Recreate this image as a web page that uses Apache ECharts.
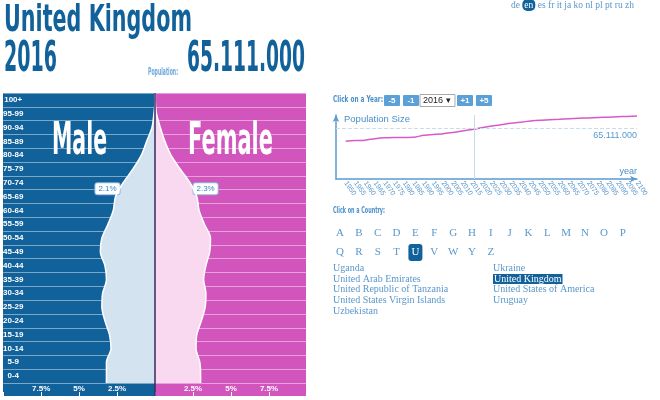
<!DOCTYPE html>
<html><head><meta charset="utf-8">
<script src="https://cdn.jsdelivr.net/npm/echarts@6/dist/echarts.min.js"></script>
<style>html,body{margin:0;padding:0;background:#fff}#c{width:660px;height:400px}</style>
</head><body><div id="c"></div>
<script>
// ---------- data ----------
const countryName = 'United Kingdom';
const selectedYear = 2016;
const totalPopulation = 65111000;
const ageGroups = ['0-4','5-9','10-14','15-19','20-24','25-29','30-34','35-39','40-44','45-49','50-54','55-59','60-64','65-69','70-74','75-79','80-84','85-89','90-94','95-99','100+'];
const maleShare   = [3.2, 3.2, 2.9, 3.0, 3.3, 3.5, 3.45, 3.2, 3.3, 3.6, 3.5, 3.1, 2.75, 2.6, 2.1, 1.45, 0.9, 0.55, 0.2, 0.07, 0.0];
const femaleShare = [3.0, 2.95, 2.7, 2.75, 3.05, 3.3, 3.35, 3.2, 3.35, 3.6, 3.65, 3.25, 2.9, 2.75, 2.3, 1.65, 1.05, 0.65, 0.35, 0.1, 0.02];
const highlightedAge = '70-74';
const shareTicks = [0, 2.5, 5, 7.5, 10];
const years = [1950,1955,1960,1965,1970,1975,1980,1985,1990,1995,2000,2005,2010,2015,2020,2025,2030,2035,2040,2045,2050,2055,2060,2065,2070,2075,2080,2085,2090,2095,2100];
const populationMillions = [48.5,49.2,49.8,51.5,52.7,53.1,53.3,53.4,56.0,57.0,58.1,59.6,61.6,63.5,65.8,67.9,69.6,71.4,72.8,74.2,75.3,76.0,76.6,77.3,77.9,78.3,78.8,79.2,79.8,80.2,80.8];
const languages = ['de','en','es','fr','it','ja','ko','nl','pl','pt','ru','zh'];
const currentLanguage = 'en';
const yearButtons = ['-5','-1','+1','+5'];
const lettersRow1 = ['A','B','C','D','E','F','G','H','I','J','K','L','M','N','O','P'];
const lettersRow2 = ['Q','R','S','T','U','V','W','Y','Z'];
const currentLetter = 'U';
const countriesCol1 = ['Uganda','United Arab Emirates','United Republic of Tanzania','United States Virgin Islands','Uzbekistan'];
const countriesCol2 = ['Ukraine','United Kingdom','United States of America','Uruguay'];

// ---------- helpers ----------
const DARK = '#11619b', MAG = '#d155bc', LB = '#5a97cc';
const fmtDots = n => String(Math.round(n)).replace(/\B(?=(\d{3})+(?!\d))/g, '.');
const mctx = document.createElement('canvas').getContext('2d');
function measure(str, size, fam, weight){ mctx.font = (weight||'normal') + ' ' + size + 'px ' + fam; return mctx.measureText(str).width; }
function condText(str, left, cy, size, targetW, color){
  const s = targetW / measure(str, size, '"DejaVu Sans"', 'bold');
  return {type:'text', x:left, y:cy, scaleX:s, z:30,
    style:{text:str, fontFamily:'DejaVu Sans', fontWeight:'bold', fontSize:size, fill:color,
      align:'left', verticalAlign:'middle', textAlign:'left', textVerticalAlign:'middle'}};
}
function txt(str, x, y, size, color, fam, align, extra){
  return {type:'text', x:x, y:y, z:30, style:Object.assign({text:str, fontFamily:fam||'Liberation Serif', fontSize:size, fill:color,
    align:align||'left', verticalAlign:'middle', textAlign:align||'left', textVerticalAlign:'middle'}, extra||{})};
}
function pyramidData(shares){
  const pts = [[shares[0], 0]];
  shares.forEach((v,i)=> pts.push([v, i+0.5]));
  pts.push([shares[shares.length-1], shares.length]);
  return pts;
}
function pyramidMark(shares, pos){
  const hi = ageGroups.indexOf(highlightedAge);
  return {symbol:'circle', symbolSize:1, silent:true, animation:false, itemStyle:{color:'#fff'},
    data:[{coord:[shares[hi], hi+0.5], value:shares[hi]}],
    label:{show:true, position:pos, distance:3, offset:[0,6], formatter: p => p.value + '%',
      backgroundColor:'#fff', borderColor:'#8fb9e0', borderWidth:1, borderRadius:2, padding:[2,3,1,3],
      color:'#3d86c6', fontSize:8, fontFamily:'Liberation Sans'}};
}

// ---------- graphics ----------
const g = [];
g.push({type:'rect', z:-10, shape:{x:3, y:93, width:152, height:303}, style:{fill:DARK}});
g.push({type:'rect', z:-10, shape:{x:155, y:93, width:151, height:303}, style:{fill:MAG}});
g.push({type:'line', z:40, shape:{x1:155, y1:93, x2:155, y2:396}, style:{stroke:'#3b2a5e', lineWidth:1.5}});
g.push(condText(countryName, 4, 21, 38, 188, DARK));
g.push(condText(String(selectedYear), 4, 60, 42, 53, DARK));
g.push(condText(fmtDots(totalPopulation), 187, 60, 42, 118, DARK));
g.push(condText('Population:', 148, 72, 10, 30, '#6fa8dc'));
g.push(condText('Male', 52, 143, 44, 55, '#ffffff'));
g.push(condText('Female', 188, 143, 44, 85, '#ffffff'));
// languages
g.push({type:'text', x:511, y:5, z:30, style:{
  text: languages.map(l => l === currentLanguage ? '{on|' + l + '}' : l).join(' '),
  fontFamily:'Liberation Serif', fontSize:9.5, fill:LB, align:'left', verticalAlign:'middle', textAlign:'left', textVerticalAlign:'middle',
  rich:{on:{fill:'#fff', backgroundColor:DARK, borderRadius:5, padding:[1,2], fontFamily:'Liberation Serif', fontSize:9.5}}}});
// year controls
g.push(condText('Click on a Year:', 333, 100, 9, 50, '#4a8fc9'));
const btnX = [384, 403, 457, 476];
yearButtons.forEach((b,i)=>{
  g.push({type:'rect', z:20, shape:{x:btnX[i], y:95, width:16, height:11, r:1}, style:{fill:'#5ba1d7'}});
  g.push(txt(b, btnX[i]+8, 100.5, 8, '#fff', 'Liberation Sans', 'center', {fontWeight:'bold'}));
});
g.push({type:'rect', z:20, shape:{x:420, y:94.5, width:35, height:12}, style:{fill:'#fff', stroke:'#a9a9a9', lineWidth:1}});
g.push(txt(String(selectedYear) + ' \u25BE', 423, 100.5, 9, '#222', 'Liberation Sans', 'left'));
// line chart texts
g.push(txt('Population Size', 344, 119, 9.5, '#4a8fc9', 'Liberation Sans', 'left'));
g.push(txt('year', 637, 172, 9, '#4a8fc9', 'Liberation Sans', 'right'));
// country selector
g.push(condText('Click on a Country:', 333, 211, 9, 52, '#4a8fc9'));
[lettersRow1, lettersRow2].forEach((row, r)=>{
  row.forEach((L,i)=>{
    const x = 340 + i*18.85, y = 233 + r*19.5;
    if (L === currentLetter) {
      g.push({type:'rect', z:20, shape:{x:x-7, y:y-8.5, width:14, height:17, r:3}, style:{fill:DARK}});
      g.push(txt(L, x, y, 11, '#fff', 'Liberation Serif', 'center'));
    } else g.push(txt(L, x, y, 11, LB, 'Liberation Serif', 'center'));
  });
});
countriesCol1.forEach((c,i)=> g.push(txt(c, 333, 268.5 + i*10.6, 10, LB)));
countriesCol2.forEach((c,i)=> {
  if (c === countryName) g.push(txt(c, 493, 268.5 + i*10.6, 10, '#fff', 'Liberation Serif', 'left', {backgroundColor:DARK, padding:[0,1]}));
  else g.push(txt(c, 493, 268.5 + i*10.6, 10, LB));
});

// ---------- axes ----------
const shareAxis = (gi, inv) => ({gridIndex:gi, type:'value', min:shareTicks[0], max:shareTicks[shareTicks.length-1], interval:2.5, inverse:inv, offset:13,
  axisLine:{show:false}, splitLine:{show:false},
  axisTick:{show:true, inside:true, length:4, lineStyle:{color:'#fff', width:1}},
  axisLabel:{inside:true, margin:3, color:'#fff', fontSize:8, fontWeight:'bold', fontFamily:'Liberation Sans',
    formatter: v => (v === shareTicks[0] || v === shareTicks[shareTicks.length-1]) ? '' : v + '%'}});
const ageAxis = (gi, showLabel) => ({gridIndex:gi, type:'category', data:ageGroups, boundaryGap:true,
  axisLine:{show:false}, axisTick:{show:false},
  axisLabel:{show:showLabel, inside:true, align:'center', margin:10, color:'#fff', fontSize:8, fontWeight:'bold', fontFamily:'Liberation Sans'},
  splitLine:{show:true, lineStyle:{color:'rgba(255,255,255,0.45)', width:1}}});
const rowAxis = gi => ({gridIndex:gi, type:'time', min:0, max:ageGroups.length, show:false});

const option = {
  animation:false,
  grid:[
    {left:3, top:93, width:152, height:290},
    {left:155, top:93, width:152, height:290},
    {left:336, top:115, width:301, height:64}
  ],
  xAxis:[
    shareAxis(0, true), shareAxis(1, false),
    {gridIndex:2, type:'value', min:1945, max:2100, interval:5,
     axisLine:{lineStyle:{color:'#5b9bd0', width:1.5}, symbol:['none','arrow'], symbolSize:[5,7]},
     axisTick:{show:false}, splitLine:{show:false},
     axisLabel:{rotate:-55, margin:3, fontSize:7, color:'#5a97cc', fontFamily:'Liberation Sans', formatter: v => years.indexOf(v) >= 0 ? String(v) : ''}}
  ],
  yAxis:[
    ageAxis(0, true), rowAxis(0), ageAxis(1, false), rowAxis(1),
    {gridIndex:2, type:'value', min:0, max:82, axisLabel:{show:false}, axisTick:{show:false}, splitLine:{show:false},
     axisLine:{show:true, lineStyle:{color:'#5b9bd0', width:1.5}, symbol:['none','arrow'], symbolSize:[5,7]}}
  ],
  series:[
    {type:'line', xAxisIndex:0, yAxisIndex:1, data:pyramidData(maleShare), smooth:0.3, symbol:'none', z:5,
     lineStyle:{color:'#fff', width:1.5}, areaStyle:{color:'#d3e3ef', opacity:1}, markPoint:pyramidMark(maleShare, 'left')},
    {type:'line', xAxisIndex:1, yAxisIndex:3, data:pyramidData(femaleShare), smooth:0.3, symbol:'none', z:5,
     lineStyle:{color:'#fff', width:1.5}, areaStyle:{color:'#f8d9ef', opacity:1}, markPoint:pyramidMark(femaleShare, 'right')},
    {type:'line', xAxisIndex:2, yAxisIndex:4, data:years.map((y,i)=>[y, populationMillions[i]]), smooth:0.2, symbol:'none',
     lineStyle:{color:'#d65ac9', width:1.5},
     markLine:{silent:true, symbol:'none', animation:false,
       data:[
         {yAxis: totalPopulation/1e6, lineStyle:{color:'#c9dcec', type:'dashed', width:1},
          label:{show:true, position:'insideEndBottom', formatter: fmtDots(totalPopulation), color:'#5a97cc', fontSize:9, fontFamily:'Liberation Sans', distance:[0,3]}},
         {xAxis: selectedYear, lineStyle:{color:'#c9dcec', type:'solid', width:1}, label:{show:false}}
       ]}}
  ],
  graphic: g
};
const chart = echarts.init(document.getElementById('c'));
chart.setOption(option);
</script></body></html>
